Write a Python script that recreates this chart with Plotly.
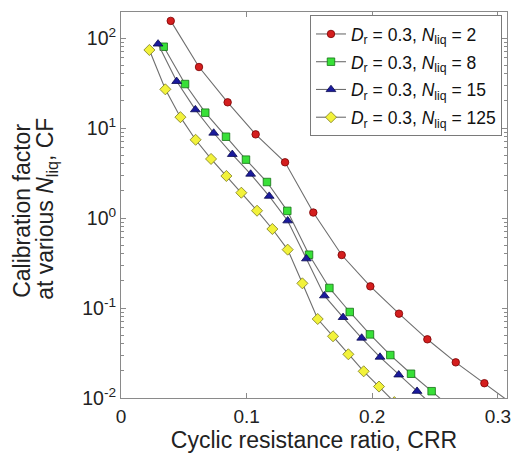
import plotly.graph_objects as go

# ---- data ----
crr_n2 = [0.0396, 0.0621, 0.0849, 0.1072, 0.1306, 0.1531, 0.1757, 0.1985, 0.2213, 0.2439, 0.2665, 0.2893, 0.3120]
cf_n2 = [155, 47.6, 19.3, 8.5, 4.16, 1.15, 0.388, 0.174, 0.0865, 0.0449, 0.0249, 0.0146, 0.0085]

crr_n8 = [0.0340, 0.0510, 0.0671, 0.0836, 0.0995, 0.1162, 0.1324, 0.1497, 0.1659, 0.1821, 0.1982, 0.2144, 0.2309, 0.2473, 0.2637]
cf_n8 = [80, 30.8, 14.8, 8.0, 4.45, 2.51, 1.2, 0.391, 0.167, 0.0903, 0.0509, 0.030, 0.0186, 0.0119, 0.0076]

crr_n15 = [0.0295, 0.0443, 0.0592, 0.0738, 0.0886, 0.1032, 0.1180, 0.1327, 0.1476, 0.1619, 0.1768, 0.1916, 0.2062, 0.2211, 0.2357, 0.2503]
cf_n15 = [86, 33, 16.0, 8.8, 5.1, 3.08, 1.75, 0.933, 0.353, 0.137, 0.0787, 0.0464, 0.0285, 0.0181, 0.0119, 0.0078]

crr_n125 = [0.0226, 0.0353, 0.0473, 0.0594, 0.0717, 0.0839, 0.0958, 0.1083, 0.1205, 0.1327, 0.1444, 0.1566, 0.1688, 0.1810, 0.1932, 0.2054, 0.2176]
cf_n125 = [73.6, 26.9, 13.2, 7.4, 4.53, 2.93, 1.91, 1.205, 0.755, 0.445, 0.188, 0.0755, 0.0485, 0.0306, 0.0198, 0.0134, 0.009]

series_names = [
    "<i>D</i><sub>r</sub> = 0.3, <i>N</i><sub>liq</sub> = 2",
    "<i>D</i><sub>r</sub> = 0.3, <i>N</i><sub>liq</sub> = 8",
    "<i>D</i><sub>r</sub> = 0.3, <i>N</i><sub>liq</sub> = 15",
    "<i>D</i><sub>r</sub> = 0.3, <i>N</i><sub>liq</sub> = 125",
]

x_tickvals = [0, 0.1, 0.2, 0.3]
x_ticktext = ["0", "0.1", "0.2", "0.3"]
y_tickvals = [0.01, 0.1, 1, 10, 100]
y_ticktext = ["10<sup>-2</sup>", "10<sup>-1</sup>", "10<sup>0</sup>", "10<sup>1</sup>", "10<sup>2</sup>"]
y_minor = [m * 10 ** e for e in range(-2, 3) for m in range(2, 10)]

styles = [
    dict(symbol="circle", size=7.5, color="#d41e1e", line=dict(color="#7a0000", width=0.8)),
    dict(symbol="square", size=7.5, color="#38e038", line=dict(color="#157015", width=0.8)),
    dict(symbol="triangle-up", size=8.5, color="#1a1a9c", line=dict(color="#0a0a50", width=0.8)),
    dict(symbol="diamond", size=8.5, color="#f2f23a", line=dict(color="#7a7a20", width=0.8)),
]

xs = [crr_n2, crr_n8, crr_n15, crr_n125]
ys = [cf_n2, cf_n8, cf_n15, cf_n125]

fig = go.Figure()
for i, (x, y, name, st) in enumerate(zip(xs, ys, series_names, styles)):
    fig.add_trace(go.Scatter(
        x=x, y=y, mode="lines+markers", name=name, legendgroup=f"g{i}",
        line=dict(color="#6e6e6e", width=1.1),
        marker=st, cliponaxis=True,
    ))

font_family = "Liberation Sans, Arial, Helvetica, sans-serif"
axis_col = "#8a8a8a"

fig.update_layout(
    width=511, height=455,
    margin=dict(l=121, r=4, t=12, b=57, autoexpand=False),
    paper_bgcolor="white", plot_bgcolor="white",
    font=dict(family=font_family, color="#222222", size=19),
    showlegend=True,
    legend=dict(
        x=0.987, y=0.992, xanchor="right", yanchor="top",
        bgcolor="white", bordercolor="#7a7a7a", borderwidth=1,
        font=dict(size=17.5, color="#111111"),
        itemwidth=30, tracegroupgap=2,
    ),
    xaxis=dict(
        range=[0, 0.3073], tickmode="array", tickvals=x_tickvals, ticktext=x_ticktext,
        ticks="inside", ticklen=5, tickcolor=axis_col, showgrid=False, zeroline=False,
        showline=True, linecolor=axis_col, linewidth=1, mirror="allticks",
        tickfont=dict(size=19), ticklabelstandoff=1, automargin=False,
        ticklabeloverflow="allow",
        title=dict(text="Cyclic resistance ratio, CRR", font=dict(size=23), standoff=0),
    ),
    yaxis=dict(
        type="log", range=[-2, 2.289], tickmode="array", tickvals=y_tickvals, ticktext=y_ticktext,
        ticks="inside", ticklen=5, tickcolor=axis_col, showgrid=False, zeroline=False,
        showline=True, linecolor=axis_col, linewidth=1, mirror="allticks",
        tickfont=dict(size=19.5), automargin=False,
        minor=dict(tickmode="array", tickvals=y_minor, ticks="inside", ticklen=3,
                   tickcolor=axis_col, showgrid=False),
    ),
)

fig.add_annotation(text="Calibration factor", textangle=-90, showarrow=False,
                   xref="paper", yref="paper", x=(22 - 121) / 386, y=0.485,
                   xanchor="center", yanchor="middle", font=dict(size=23, color="#222222"))
fig.add_annotation(text="at various <i>N</i><sub>liq</sub>, CF", textangle=-90, showarrow=False,
                   xref="paper", yref="paper", x=(47 - 121) / 386, y=0.49,
                   xanchor="center", yanchor="middle", font=dict(size=23, color="#222222"))

fig.write_html("out.html", config={"displayModeBar": False},
               post_script="document.body.style.margin='0';document.body.style.overflow='hidden';")
